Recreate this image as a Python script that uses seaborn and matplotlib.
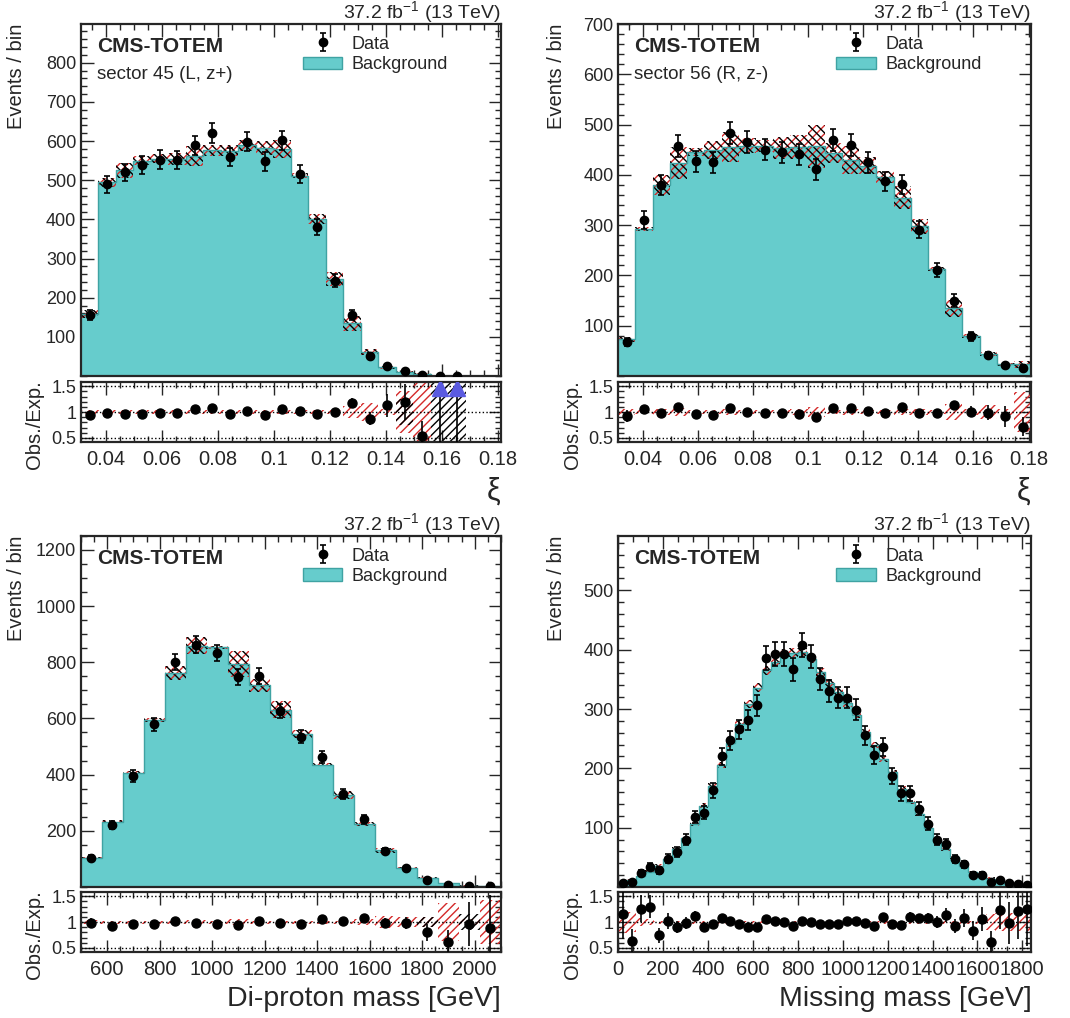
import numpy as np
import pandas as pd
import matplotlib
matplotlib.use("Agg")
import matplotlib.pyplot as plt
import seaborn as sns
from matplotlib.ticker import MultipleLocator, FixedLocator, FormatStrFormatter
from matplotlib.patches import Patch

# ---- data ----
# xi, sector 45 (24 bins, 0.031 - 0.181)
xi_lo, xi_hi, xi_nbins = 0.031, 0.181, 24
bg_45 = [158, 495, 525, 550, 555, 555, 562, 577, 576, 589, 582, 579,
         512, 402, 248, 135, 61, 22, 10, 5, 0.3, 0.1, 0, 0]
unc_45 = [10, 12, 20, 12, 12, 15, 25, 14, 15, 13, 18, 23,
          7, 13, 18, 19, 8, 4, 3, 2, 0.5, 0.2, 0, 0]
data_45 = [155, 490, 520, 538, 553, 552, 589, 621, 560, 598, 548, 602,
           517, 381, 244, 155, 51, 25, 12, 3, 1, 1]
ratio_45 = [0.95, 0.98, 0.96, 0.97, 0.99, 0.99, 1.05, 1.08, 0.97, 1.02, 0.94, 1.05,
            1.02, 0.97, 1.00, 1.18, 0.87, 1.13, 1.20, 0.53, 5.0, 8.0]
rband_45 = [0.04, 0.03, 0.04, 0.03, 0.03, 0.03, 0.04, 0.03, 0.03, 0.03, 0.03, 0.04,
            0.03, 0.03, 0.04, 0.12, 0.18, 0.05, 0.40, 0.60, 0, 0, 0, 0]
kband_45 = [0, 0, 0, 0, 0, 0, 0, 0, 0, 0, 0, 0,
            0, 0, 0, 0, 0, 0, 0.25, 0, 0.60, 0.60, 0, 0]

# xi, sector 56
bg_56 = [73, 293, 380, 423, 445, 450, 455, 458, 457, 454, 455, 457,
         443, 430, 418, 395, 355, 298, 213, 135, 80, 43, 23, 23]
unc_56 = [5, 4, 19, 32, 8, 18, 30, 15, 12, 22, 24, 43,
          20, 28, 17, 12, 23, 15, 4, 17, 4, 4, 3, 7]
data_56 = [67, 311, 380, 457, 427, 425, 483, 465, 450, 445, 441, 411,
           470, 459, 425, 387, 381, 291, 211, 150, 79, 42, 21, 17]
ratio_56 = [0.92, 1.05, 0.99, 1.09, 0.96, 0.95, 1.07, 1.01, 0.98, 0.98, 0.96, 0.90,
            1.07, 1.07, 1.02, 0.99, 1.09, 0.98, 0.99, 1.13, 1.01, 0.99, 0.92, 0.72]
rband_56 = [0.05, 0.03, 0.05, 0.08, 0.03, 0.04, 0.06, 0.04, 0.04, 0.04, 0.05, 0.09,
            0.04, 0.06, 0.04, 0.03, 0.06, 0.05, 0.03, 0.15, 0.05, 0.14, 0.06, 0.38]
kband_56 = [0] * 24

# di-proton mass (20 bins, 500 - 2100 GeV)
mpp_lo, mpp_hi, mpp_nbins = 500, 2100, 20
bg_mpp = [103, 232, 407, 594, 760, 858, 853, 794, 718, 631, 544, 435,
          328, 225, 130, 69, 32, 13, 5, 2]
unc_mpp = [4, 5, 6, 8, 25, 30, 5, 45, 24, 30, 15, 5, 14, 7, 9, 3, 3, 2, 1, 1]
data_mpp = [103, 221, 395, 579, 800, 863, 833, 748, 751, 625, 534, 463,
            331, 241, 128, 66, 26, 8, 5, 2]
ratio_mpp = [0.98, 0.93, 0.96, 0.96, 1.03, 0.99, 0.97, 0.94, 1.03, 0.98, 0.97, 1.05,
             1.02, 1.07, 0.99, 0.98, 0.80, 0.62, 0.96, 0.89]
rband_mpp = [0.04, 0.03, 0.03, 0.03, 0.03, 0.04, 0.03, 0.06, 0.03, 0.03, 0.03, 0.03,
             0.03, 0.05, 0.12, 0.10, 0.10, 0.36, 0.05, 0.42]
kband_mpp = [0] * 16 + [0.10, 0, 0.15, 0]

# missing mass (46 bins, 0 - 1840 GeV)
mx_lo, mx_hi, mx_nbins = 0, 1840, 46
bg_mx = [5, 12, 18, 26, 36, 47, 64, 82, 106, 137, 170, 206, 242, 274, 309, 336,
         365, 380, 393, 395, 396, 385, 362, 344, 329, 310, 290, 261, 239, 215,
         193, 166, 144, 123, 99, 80, 64, 50, 36, 25, 19, 14, 9, 6, 4, 2.5]
unc_mx = [1, 2, 2, 2, 2, 2, 3, 3, 4, 4, 5, 5, 6, 6, 7, 7, 8, 8, 8, 7, 7, 7, 7,
          7, 6, 6, 6, 6, 5, 5, 5, 4, 4, 4, 3, 3, 3, 2, 2, 2, 2, 2, 2, 1, 1, 1]
data_mx = [6, 8, 23, 34, 28, 48, 59, 80, 118, 125, 163, 220, 247, 266, 281, 306,
           386, 393, 393, 367, 408, 388, 351, 330, 319, 319, 299, 256, 222, 236,
           187, 158, 158, 132, 107, 80, 73, 47, 38, 21, 20, 9, 11, 6, 5, 3]
ratio_mx = [1.15, 0.64, 1.26, 1.30, 0.74, 1.02, 0.90, 0.98, 1.12, 0.91, 0.96, 1.07,
            1.02, 0.97, 0.91, 0.91, 1.05, 1.03, 1.00, 0.93, 1.03, 1.01, 0.97, 0.96,
            0.97, 1.03, 1.03, 0.98, 0.93, 1.10, 0.97, 0.95, 1.10, 1.07, 1.08, 1.00,
            1.14, 0.93, 1.07, 0.83, 1.06, 0.62, 1.23, 0.98, 1.21, 1.26]
rband_mx = [0.22, 0.20, 0.08, 0.05] + [0.03] * 37 + [0.15, 0.18, 0.18, 0.18, 0.18]
kband_mx = [0] * 46

# ---- style ----
TEAL = "#66cccc"
TEAL_EDGE = "#3fa3a3"
RED = "#d42a2a"
BLUE = "#5a5ae0"
R_LO, R_HI = 0.42, 1.58

sns.set_style("ticks")
plt.rcParams["font.family"] = ["Liberation Sans", "DejaVu Sans"]
plt.rcParams["mathtext.default"] = "regular"
plt.rcParams["hatch.linewidth"] = 1.0

fig = plt.figure(figsize=(10.7, 10.18), dpi=100)


def style_axis(ax, lw=1.6):
    for s in ax.spines.values():
        s.set_linewidth(lw)
        s.set_visible(True)
    ax.tick_params(which="both", direction="in", top=True, right=True,
                   width=1.0, labelsize=13)
    ax.tick_params(which="major", length=9)
    ax.tick_params(which="minor", length=4.5)


def ext(v):
    v = np.asarray(v, float)
    return np.append(v, v[-1])


def draw(pos_main, pos_ratio, edges, bg, unc, data, ratio, rband, kband,
         ylim, ymajor, yminor, xmajor, xminor, xfmt, extra_text=None,
         xlabel="", xlabel_size=20, ylab_x=0.015, olab_x=0.032):
    ax = fig.add_axes(pos_main)
    rax = fig.add_axes(pos_ratio, sharex=ax)
    centers = (edges[:-1] + edges[1:]) / 2
    hist_df = pd.DataFrame({"x": centers, "w": np.asarray(bg, float)})

    sns.histplot(data=hist_df, x="x", weights="w", bins=list(edges), element="step",
                 fill=True, color=TEAL, alpha=1.0, linewidth=0, ax=ax)
    sns.histplot(data=hist_df, x="x", weights="w", bins=list(edges), element="step",
                 fill=False, color=TEAL_EDGE, linewidth=1.0, ax=ax)
    b = np.asarray(bg, float)
    u = np.asarray(unc, float)
    ax.fill_between(edges, ext(b - u), ext(b + u), step="post", facecolor="none",
                    edgecolor=RED, hatch="////", linewidth=0)
    ax.fill_between(edges, ext(b - u), ext(b + u), step="post", facecolor="none",
                    edgecolor="black", hatch="\\\\\\\\", linewidth=0)

    d = np.asarray(data, float)
    n = len(d)
    eb = ax.errorbar(centers[:n], d, yerr=np.sqrt(d), fmt="o", color="black",
                     ms=6, capsize=2, elinewidth=1.2, capthick=1.2, zorder=5)

    ax.set_xlim(edges[0], edges[-1])
    ax.set_ylim(*ylim)
    ax.yaxis.set_major_locator(FixedLocator(list(ymajor)))
    ax.yaxis.set_minor_locator(MultipleLocator(yminor))
    ax.xaxis.set_major_locator(MultipleLocator(xmajor))
    ax.xaxis.set_minor_locator(MultipleLocator(xminor))
    ax.set_xlabel("")
    ax.set_ylabel("")
    plt.setp(ax.get_xticklabels(), visible=False)
    style_axis(ax)

    ax.text(1.0, 1.016, r"37.2 fb$^{-1}$ (13 TeV)", transform=ax.transAxes,
            ha="right", va="baseline", fontsize=14)
    ax.text(0.038, 0.935, "CMS-TOTEM", transform=ax.transAxes, ha="left",
            va="center", fontsize=15, fontweight="bold")
    if extra_text:
        ax.text(0.038, 0.858, extra_text, transform=ax.transAxes, ha="left",
                va="center", fontsize=13.5)
    ax.legend(handles=[eb, Patch(facecolor=TEAL, edgecolor=TEAL_EDGE)],
              labels=["Data", "Background"], loc="upper left",
              bbox_to_anchor=(0.5, 1.0), frameon=False, fontsize=13,
              handlelength=2.2, handletextpad=0.5, labelspacing=0.2,
              borderaxespad=0.25)
    top = pos_main[1] + pos_main[3]
    fig.text(ylab_x, top, "Events / bin", rotation=90, ha="center", va="top",
             fontsize=14.5)

    # ratio panel
    rb = np.asarray(rband, float)
    kb = np.asarray(kband, float)
    rax.fill_between(edges, ext(1 - rb), ext(1 + rb), step="post", facecolor="none",
                     edgecolor=RED, hatch="////", linewidth=0)
    rax.fill_between(edges, ext(1 - kb), ext(1 + kb), step="post", facecolor="none",
                     edgecolor="black", hatch="////", linewidth=0)
    for yv in (0.5, 1.0, 1.5):
        rax.axhline(yv, color="black", ls=":", lw=1.0, zorder=1)
    r = np.asarray(ratio, float)
    rerr = r / np.sqrt(d)
    inside = r <= R_HI
    rax.errorbar(centers[:n][inside], r[inside], yerr=rerr[inside], fmt="o",
                 color="black", ms=6.5, elinewidth=1.2, capsize=0, zorder=5)
    off = ~inside
    if off.any():
        rax.vlines(centers[:n][off], R_LO, R_HI, color="black", lw=1.2, zorder=4)
        rax.plot(centers[:n][off], np.full(off.sum(), 1.47), ls="none", marker="^",
                 color=BLUE, ms=11, zorder=6)
    rax.set_ylim(R_LO, R_HI)
    rax.set_yticks([0.5, 1.0, 1.5])
    rax.set_yticklabels(["0.5", "1", "1.5"])
    rax.yaxis.set_minor_locator(MultipleLocator(0.1))
    rax.xaxis.set_major_formatter(FormatStrFormatter(xfmt))
    style_axis(rax)
    rax.tick_params(axis="x", labelsize=14.5, pad=6)
    rtop = pos_ratio[1] + pos_ratio[3]
    fig.text(olab_x, rtop + 0.002, "Obs./Exp.", rotation=90, ha="center", va="top",
             fontsize=14.5)
    right = pos_main[0] + pos_main[2]
    fig.text(right, pos_ratio[1] - 0.033, xlabel, ha="right", va="top",
             fontsize=xlabel_size)
    return ax, rax


xi_edges = np.linspace(xi_lo, xi_hi, xi_nbins + 1)
mpp_edges = np.linspace(mpp_lo, mpp_hi, mpp_nbins + 1)
mx_edges = np.linspace(mx_lo, mx_hi, mx_nbins + 1)

L1, W1 = 0.0757, 0.3925
L2, W2 = 0.5778, 0.386

draw([L1, 0.6306, W1, 0.3458], [L1, 0.5658, W1, 0.0589], xi_edges, bg_45, unc_45,
     data_45, ratio_45, rband_45, kband_45, (0, 899), range(100, 900, 100), 20,
     0.02, 0.005, "%g", extra_text="sector 45 (L, z+)", xlabel=r"$\xi$",
     xlabel_size=22, ylab_x=0.015, olab_x=0.032)
draw([L2, 0.6306, W2, 0.3458], [L2, 0.5658, W2, 0.0589], xi_edges, bg_56, unc_56,
     data_56, ratio_56, rband_56, kband_56, (0, 700), range(100, 800, 100), 20,
     0.02, 0.005, "%g", extra_text="sector 56 (R, z-)", xlabel=r"$\xi$",
     xlabel_size=22, ylab_x=0.52, olab_x=0.5355)
draw([L1, 0.1287, W1, 0.345], [L1, 0.0648, W1, 0.0589], mpp_edges, bg_mpp, unc_mpp,
     data_mpp, ratio_mpp, rband_mpp, kband_mpp, (0, 1250), range(200, 1300, 200), 50,
     200, 50, "%g", xlabel="Di-proton mass [GeV]", xlabel_size=20.5,
     ylab_x=0.015, olab_x=0.032)
draw([L2, 0.1287, W2, 0.345], [L2, 0.0648, W2, 0.0589], mx_edges, bg_mx, unc_mx,
     data_mx, ratio_mx, rband_mx, kband_mx, (0, 592), range(100, 600, 100), 20,
     200, 200 / 3, "%g", xlabel="Missing mass [GeV]", xlabel_size=20.5,
     ylab_x=0.52, olab_x=0.5355)

fig.savefig("out.png", dpi=100)
